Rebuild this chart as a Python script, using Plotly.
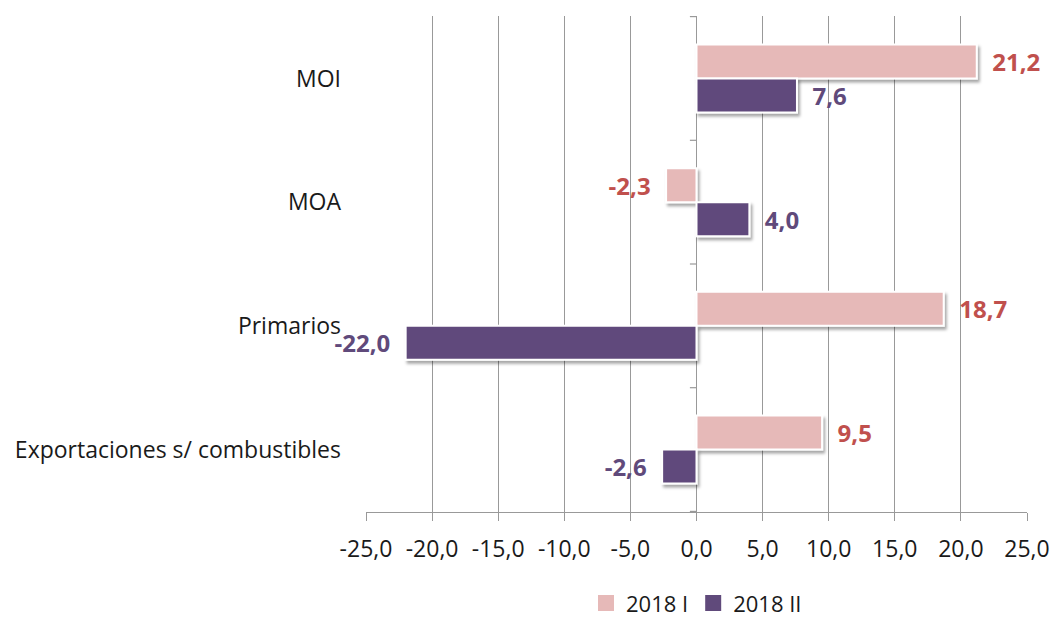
import plotly.graph_objects as go

categories = ["MOI", "MOA", "Primarios", "Exportaciones s/ combustibles"]
series_names = ["2018 I", "2018 II"]
values_2018_i = [21.2, -2.3, 18.7, 9.5]
values_2018_ii = [7.6, 4.0, -22.0, -2.6]
x_ticks = [-25, -20, -15, -10, -5, 0, 5, 10, 15, 20, 25]
x_tick_labels = [f"{v:.1f}".replace(".", ",") for v in x_ticks]

bar_colors = ["#E6B9B8", "#604A7B"]
label_colors = ["#C0504D", "#604A7B"]
FONT = "'Open Sans', sans-serif"
GRID = "#999999"

fig = go.Figure()
for name, vals, col, lcol in zip(series_names, [values_2018_i, values_2018_ii],
                                 bar_colors, label_colors):
    fig.add_trace(go.Bar(
        name=name, y=categories, x=vals, orientation="h",
        marker=dict(color=col, line=dict(color="white", width=2)),
        text=vals, texttemplate="  %{x:.1f}  ", textposition="outside",
        constraintext="none", cliponaxis=False,
        textfont=dict(family=FONT, size=24, color=lcol, weight="bold"),
        hoverinfo="skip", showlegend=False, legendgroup=name,
    ))

# legend entries with larger square swatches
for name, col in zip(series_names, bar_colors):
    fig.add_trace(go.Scatter(
        name=name, x=[None], y=[None], mode="markers",
        marker=dict(symbol="square", size=16, color=col),
        legendgroup=name, showlegend=True, hoverinfo="skip",
    ))

# small tick marks on the zero axis between categories
for i in range(len(categories) + 1):
    fig.add_shape(type="line", xref="x", yref="y",
                  x0=-0.5, x1=0, y0=i - 0.5, y1=i - 0.5,
                  line=dict(color=GRID, width=1.2), layer="below")

fig.update_layout(
    width=1053, height=619,
    margin=dict(l=366, r=26, t=16, b=107, autoexpand=False),
    paper_bgcolor="white", plot_bgcolor="white",
    separators=",.",
    barmode="group", bargap=0.45, bargroupgap=0.0,
    font=dict(family=FONT, size=23, color="#1a1a1a"),
    legend=dict(orientation="h", x=0.5, xanchor="center", xref="paper",
                y=-0.184, yanchor="middle", font=dict(size=22),
                itemwidth=30, traceorder="normal"),
    xaxis=dict(range=[-25, 25], tickvals=x_ticks, ticktext=x_tick_labels,
               showgrid=True, gridcolor=GRID, gridwidth=1.2,
               zeroline=True, zerolinecolor=GRID, zerolinewidth=1.2,
               showline=True, linecolor=GRID, linewidth=1.2,
               ticks="outside", ticklen=8, tickcolor=GRID,
               ticklabelstandoff=8, tickfont=dict(size=23)),
    yaxis=dict(categoryorder="array", categoryarray=categories,
               autorange="reversed", showgrid=False, zeroline=False,
               showline=False, ticks="", ticklabelstandoff=24,
               tickfont=dict(size=23)),
)

shadow_js = """
var gd = document.getElementById('{plot_id}');
function addShadow(){
  var svg = gd.querySelector('svg.main-svg');
  if(!svg) return;
  var ns = 'http://www.w3.org/2000/svg';
  var defs = svg.querySelector('defs') || svg.insertBefore(document.createElementNS(ns,'defs'), svg.firstChild);
  if(!document.getElementById('barShadow')){
    var f = document.createElementNS(ns,'filter');
    f.setAttribute('id','barShadow');
    f.setAttribute('x','-20%'); f.setAttribute('y','-20%');
    f.setAttribute('width','140%'); f.setAttribute('height','160%');
    var ds = document.createElementNS(ns,'feDropShadow');
    ds.setAttribute('dx','2'); ds.setAttribute('dy','3');
    ds.setAttribute('stdDeviation','1.8');
    ds.setAttribute('flood-color','#000'); ds.setAttribute('flood-opacity','0.35');
    f.appendChild(ds); defs.appendChild(f);
  }
  gd.querySelectorAll('.bars .point path').forEach(function(p){
    p.setAttribute('filter','url(#barShadow)');
  });
}
addShadow();
"""

fig.write_html("out.html", post_script=shadow_js)
